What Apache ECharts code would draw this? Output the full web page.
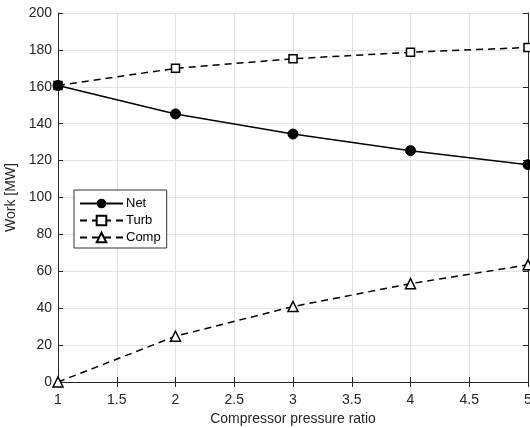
<!DOCTYPE html>
<html><head><meta charset="utf-8">
<script src="https://cdn.jsdelivr.net/npm/echarts@6/dist/echarts.min.js"></script>
<style>html,body{margin:0;padding:0;background:#fff}#c{width:530px;height:428px}</style>
</head><body><div id="c"></div>
<script>
const ratios = [1, 2, 3, 4, 5];
const netWork = [160.7, 145.3, 134.4, 125.4, 117.8];
const turbWork = [160.7, 170.0, 175.2, 178.7, 181.3];
const compWork = [0, 24.8, 40.9, 53.3, 63.5];
const seriesNames = ['Net', 'Turb', 'Comp'];

const font = 'Liberation Sans, Arial, sans-serif';
const axisCol = '#262626';
const chart = echarts.init(document.getElementById('c'), null, {renderer: 'canvas'});
const pairs = arr => ratios.map((r, i) => [r, arr[i]]);
chart.setOption({
  animation: false,
  backgroundColor: '#fff',
  grid: {left: 58, top: 13, right: 2, bottom: 46, containLabel: false, outerBoundsMode: 'none'},
  legend: {
    left: 74, top: 190, orient: 'vertical',
    backgroundColor: '#fff', borderColor: '#333', borderWidth: 1,
    padding: [7, 6, 4, 5], itemGap: 4, itemWidth: 43, itemHeight: 12,
    textStyle: {fontFamily: font, fontSize: 13, color: '#000', padding: [0, 0, 0, -2]},
    data: seriesNames
  },
  xAxis: [{
    type: 'value', min: 1, max: 5, interval: 0.5,
    name: 'Compressor pressure ratio', nameLocation: 'middle', nameGap: 26,
    nameTextStyle: {fontFamily: font, fontSize: 14, color: '#262626'},
    axisLine: {show: true, lineStyle: {color: axisCol, width: 1}},
    axisTick: {show: true, inside: true, length: 5, lineStyle: {color: axisCol}},
    axisLabel: {fontFamily: font, fontSize: 14, color: '#262626', margin: 11},
    splitLine: {show: true, lineStyle: {color: '#e3e3e3', width: 1}}
  }, {
    type: 'value', min: 1, max: 5, interval: 0.5, position: 'top',
    axisLine: {show: true, lineStyle: {color: axisCol, width: 1}},
    axisTick: {show: true, inside: true, length: 5, lineStyle: {color: axisCol}},
    axisLabel: {show: false}, splitLine: {show: false}
  }],
  yAxis: [{
    type: 'value', min: 0, max: 200, interval: 20,
    name: 'Work [MW]', nameLocation: 'middle', nameGap: 33,
    nameTextStyle: {fontFamily: font, fontSize: 14, color: '#262626'},
    axisLine: {show: true, lineStyle: {color: axisCol, width: 1}},
    axisTick: {show: true, inside: true, length: 5, lineStyle: {color: axisCol}},
    axisLabel: {fontFamily: font, fontSize: 14, color: '#262626', margin: 6},
    splitLine: {show: true, lineStyle: {color: '#e3e3e3', width: 1}}
  }, {
    type: 'value', min: 0, max: 200, interval: 20, position: 'right',
    axisLine: {show: true, lineStyle: {color: axisCol, width: 1}},
    axisTick: {show: true, inside: true, length: 5, lineStyle: {color: axisCol}},
    axisLabel: {show: false}, splitLine: {show: false}
  }],
  series: [{
    name: 'Net', type: 'line', data: pairs(netWork),
    symbol: 'circle', symbolSize: 10,
    lineStyle: {color: '#000', width: 1.5, type: 'solid'},
    itemStyle: {color: '#000', borderColor: '#000'}, z: 5
  }, {
    name: 'Turb', type: 'line', data: pairs(turbWork),
    symbol: 'rect', symbolSize: 8,
    lineStyle: {color: '#000', width: 1.5, type: [7, 5]},
    itemStyle: {color: '#fff', borderColor: '#000', borderWidth: 1.5}
  }, {
    name: 'Comp', type: 'line', data: pairs(compWork),
    symbol: 'triangle', symbolSize: 10,
    lineStyle: {color: '#000', width: 1.5, type: [7, 5]},
    itemStyle: {color: '#fff', borderColor: '#000', borderWidth: 1.5}
  }]
});
</script></body></html>
